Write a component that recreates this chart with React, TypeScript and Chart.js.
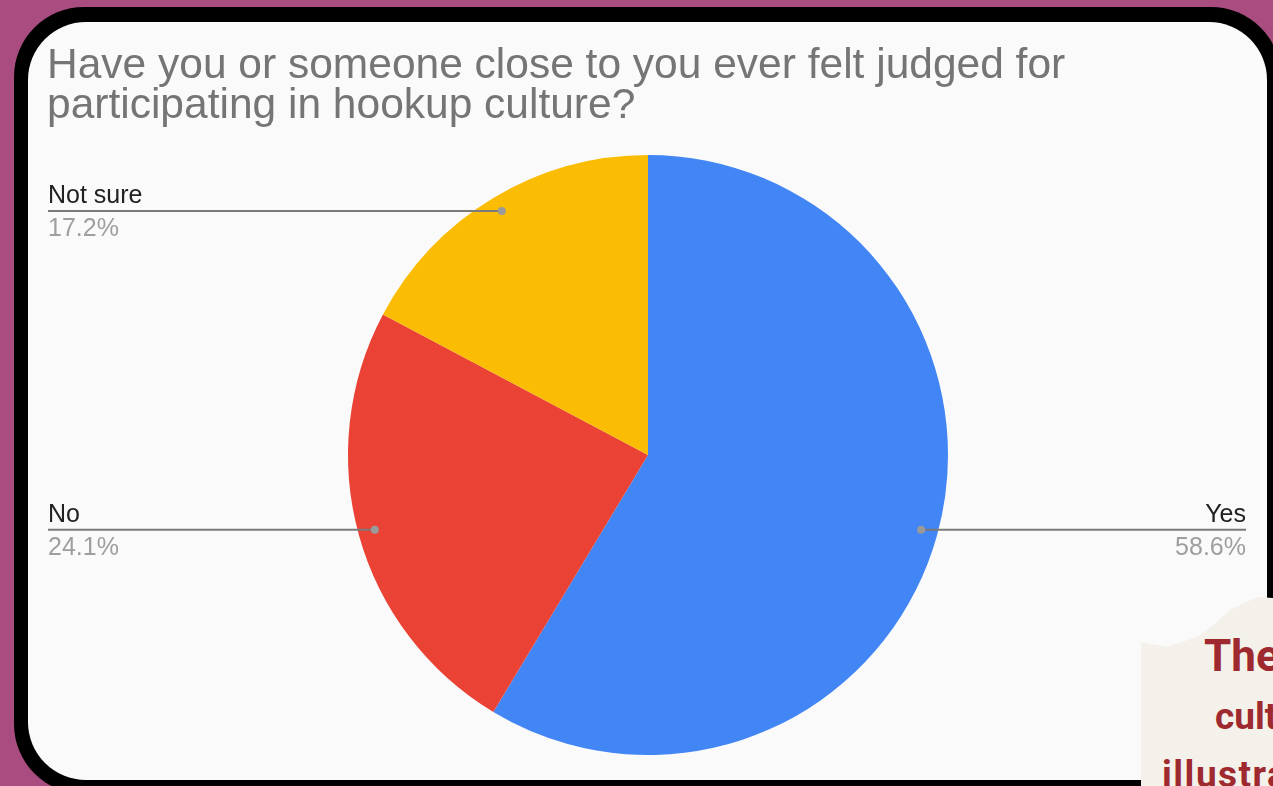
import React, { useEffect, useRef } from "react";
import { Chart, registerables } from "chart.js";

Chart.register(...registerables);

const titleLines = [
  "Have you or someone close to you ever felt judged for",
  "participating in hookup culture?",
];
const categories = ["Yes", "No", "Not sure"];
const responses = [17, 7, 5];
const sliceColors = ["#4285f4", "#ea4335", "#fbbc04"];
const noteLines = ["The", "culture", "illustrated"];

const W = 1273;
const H = 786;

const leaderPlugin = {
  id: "leaderLabels",
  afterDraw(chart: any) {
    const ctx = chart.ctx as CanvasRenderingContext2D;
    ctx.save();
    // title
    ctx.fillStyle = "#757575";
    ctx.font = "42.5px 'Liberation Sans', Arial, sans-serif";
    ctx.textAlign = "left";
    ctx.textBaseline = "alphabetic";
    titleLines.forEach((t, i) => ctx.fillText(t, 47, 78 + i * 40));

    const meta = chart.getDatasetMeta(0);
    const data = chart.data.datasets[0].data as number[];
    const total = data.reduce((a, b) => a + b, 0);
    meta.data.forEach((arc: any, i: number) => {
      const p = arc.getProps(["x", "y", "startAngle", "endAngle", "outerRadius"], true);
      const mid = (p.startAngle + p.endAngle) / 2;
      const r = p.outerRadius * 0.945;
      const px = p.x + Math.cos(mid) * r;
      const py = p.y + Math.sin(mid) * r - 1;
      const right = Math.cos(mid) > 0;
      const lx = right ? 1246 : 48;
      ctx.strokeStyle = "#7a7a7a";
      ctx.lineWidth = 2;
      ctx.beginPath();
      ctx.moveTo(px, py);
      ctx.lineTo(lx, py);
      ctx.stroke();
      ctx.fillStyle = "#9a9a9a";
      ctx.beginPath();
      ctx.arc(px, py, 4, 0, Math.PI * 2);
      ctx.fill();
      ctx.textAlign = right ? "right" : "left";
      ctx.font = "25px 'Liberation Sans', Arial, sans-serif";
      ctx.fillStyle = "#222222";
      ctx.fillText(String(chart.data.labels[i]), lx, py - 8);
      ctx.fillStyle = "#9e9e9e";
      const pct = ((data[i] / total) * 100).toFixed(1) + "%";
      ctx.fillText(pct, lx, py + 25);
    });
    ctx.restore();
  },
};

export default function App() {
  const ref = useRef<HTMLCanvasElement | null>(null);
  useEffect(() => {
    if (!ref.current) return;
    const chart = new Chart(ref.current, {
      type: "pie",
      data: {
        labels: categories,
        datasets: [
          {
            data: responses,
            backgroundColor: sliceColors,
            borderWidth: 0,
          },
        ],
      },
      options: {
        animation: false,
        responsive: false,
        layout: { padding: { top: 155, bottom: 31, left: 348, right: 325 } },
        plugins: {
          legend: { display: false },
          tooltip: { enabled: false },
          title: { display: false },
        },
      },
      plugins: [leaderPlugin],
    });
    return () => chart.destroy();
  }, []);

  return (
    <div
      style={{
        position: "fixed",
        left: 0,
        top: 0,
        width: W,
        height: H,
        overflow: "hidden",
        background: "#a94c80",
      }}
    >
      <div
        style={{
          position: "absolute",
          left: 14,
          top: 7,
          width: 1267,
          height: 787,
          borderRadius: 70,
          background: "#000",
        }}
      />
      <div
        style={{
          position: "absolute",
          left: 28,
          top: 22,
          width: 1239,
          height: 758,
          borderRadius: 58,
          background: "#fafafa",
        }}
      />
      <canvas
        ref={ref}
        width={W}
        height={H}
        style={{ position: "absolute", left: 0, top: 0, width: W, height: H }}
      />
      <div
        style={{
          position: "absolute",
          left: 1141,
          top: 595,
          width: 200,
          height: 220,
          background: "#f3f1ea",
          clipPath:
            "polygon(0px 47px, 26px 52px, 56px 42px, 76px 27px, 89px 15px, 116px 2px, 132px 3px, 200px 3px, 200px 220px, 0px 220px)",
          fontFamily: "Roboto, 'Noto Sans', sans-serif",
          fontWeight: 700,
          color: "#9e2a2f",
        }}
      >
        <div style={{ position: "absolute", left: 63, top: 80 - 44 * 0.93, fontSize: 44, lineHeight: 1, whiteSpace: "nowrap" }}>
          {noteLines[0]}
        </div>
        <div style={{ position: "absolute", left: 74, top: 137 - 37 * 0.93, fontSize: 37, lineHeight: 1, whiteSpace: "nowrap" }}>
          {noteLines[1]}
        </div>
        <div style={{ position: "absolute", left: 21, top: 195 - 37 * 0.93, fontSize: 37, lineHeight: 1, letterSpacing: 1.5, whiteSpace: "nowrap" }}>
          {noteLines[2]}
        </div>
      </div>
    </div>
  );
}
